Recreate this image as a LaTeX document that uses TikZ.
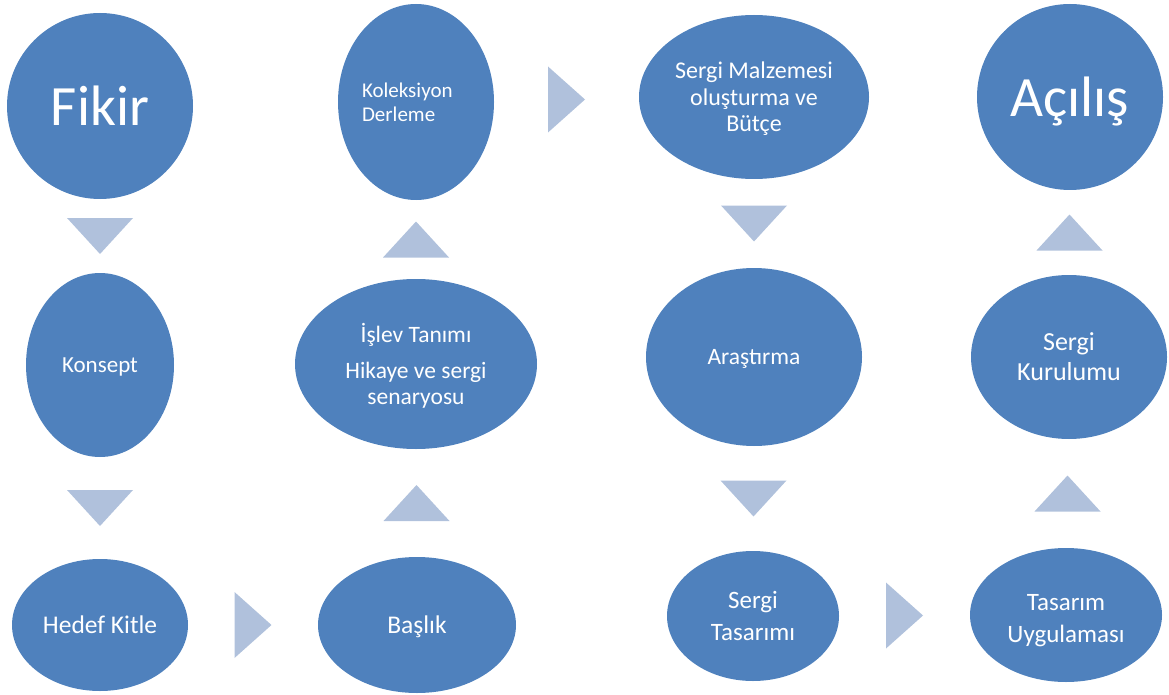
\documentclass[tikz,border=0pt]{standalone}
\usepackage{fontspec}
\setmainfont{Carlito}
\usepackage{tikz}
\usetikzlibrary{shapes.geometric,calc}
\definecolor{stageblue}{HTML}{4F81BD}
\definecolor{steplight}{HTML}{B0C1DC}

\begin{document}
\begin{tikzpicture}[
  x=1pt,y=-1pt,
  stage/.style={ellipse,fill=stageblue,text=white,inner sep=0pt,align=center,
    text depth=0pt},
  bigtext/.style={font=\fontsize{57}{60}\selectfont},
  flowdown/.pic={\fill[steplight] (-33,-18)--(33,-18)--(0,18)--cycle;},
  flowup/.pic={\fill[steplight] (-33,18)--(33,18)--(0,-18)--cycle;},
  flowright/.pic={\fill[steplight] (-18.5,-33)--(18.5,0)--(-18.5,33)--cycle;}
]
\useasboundingbox (0,0) rectangle (1169,695);

\node[stage,bigtext,minimum width=186pt,minimum height=186pt] (fikir) at (100,106) {Fikir};
\node[stage,minimum width=148pt,minimum height=184pt,
  font=\fontsize{23}{28}\selectfont] (konsept) at (100,365) {Konsept};
\node[stage,minimum width=176pt,minimum height=132pt,
  font=\fontsize{25.5}{30}\selectfont] (hedef) at (100,625) {Hedef Kitle};
\node[stage,minimum width=198pt,minimum height=136pt,
  font=\fontsize{25.5}{30}\selectfont] (baslik) at (417,625) {Başlık};
\node[stage,minimum width=242pt,minimum height=170pt,
  font=\fontsize{23.5}{26}\selectfont] (islev) at (416,364)
  {İşlev Tanımı\\[10pt]Hikaye ve sergi\\senaryosu};
\node[stage,minimum width=156pt,minimum height=196pt,align=left,text width=108pt,
  text depth=23.5pt,font=\fontsize{21}{23.5}\selectfont] (koleksiyon) at (416,102)
  {Koleksiyon\\Derleme};
\node[stage,minimum width=230pt,minimum height=164pt,
  font=\fontsize{24}{26.5}\selectfont] (malzeme) at (754,97)
  {Sergi Malzemesi\\oluşturma ve\\Bütçe};
\node[stage,minimum width=216pt,minimum height=178pt,
  font=\fontsize{23.5}{28}\selectfont] (arastirma) at (754,357) {Araştırma};
\node[stage,minimum width=172pt,minimum height=130pt,
  font=\fontsize{25}{32}\selectfont] (tasarim) at (753,616) {Sergi\\Tasarımı};
\node[stage,minimum width=192pt,minimum height=134pt,text height=55pt,
  font=\fontsize{25}{32}\selectfont] (uygulama) at (1066,615) {Tasarım\\Uygulaması};
\node[stage,minimum width=196pt,minimum height=164pt,
  font=\fontsize{26}{30}\selectfont] (kurulum) at (1069,357) {Sergi\\Kurulumu};
\node[stage,bigtext,minimum width=186pt,minimum height=186pt] (acilis) at (1070,97) {Açılış};

\pic at ($(fikir.south)!0.5!(konsept.north)$) {flowdown};
\pic at ($(konsept.south)!0.5!(hedef.north)$) {flowdown};
\pic at ($(hedef.east)!0.5!(baslik.west)$) {flowright};
\pic at ($(baslik.north)!0.5!(islev.south)$) {flowup};
\pic at ($(islev.north)!0.5!(koleksiyon.south)$) {flowup};
\pic at ($(koleksiyon.east)!0.5!(malzeme.west)$) {flowright};
\pic at ($(malzeme.south)!0.5!(arastirma.north)$) {flowdown};
\pic at ($(arastirma.south)!0.5!(tasarim.north)$) {flowdown};
\pic at ($(tasarim.east)!0.5!(uygulama.west)$) {flowright};
\pic at ($(uygulama.north)!0.5!(kurulum.south)$) {flowup};
\pic at ($(kurulum.north)!0.5!(acilis.south)$) {flowup};
\end{tikzpicture}
\end{document}
